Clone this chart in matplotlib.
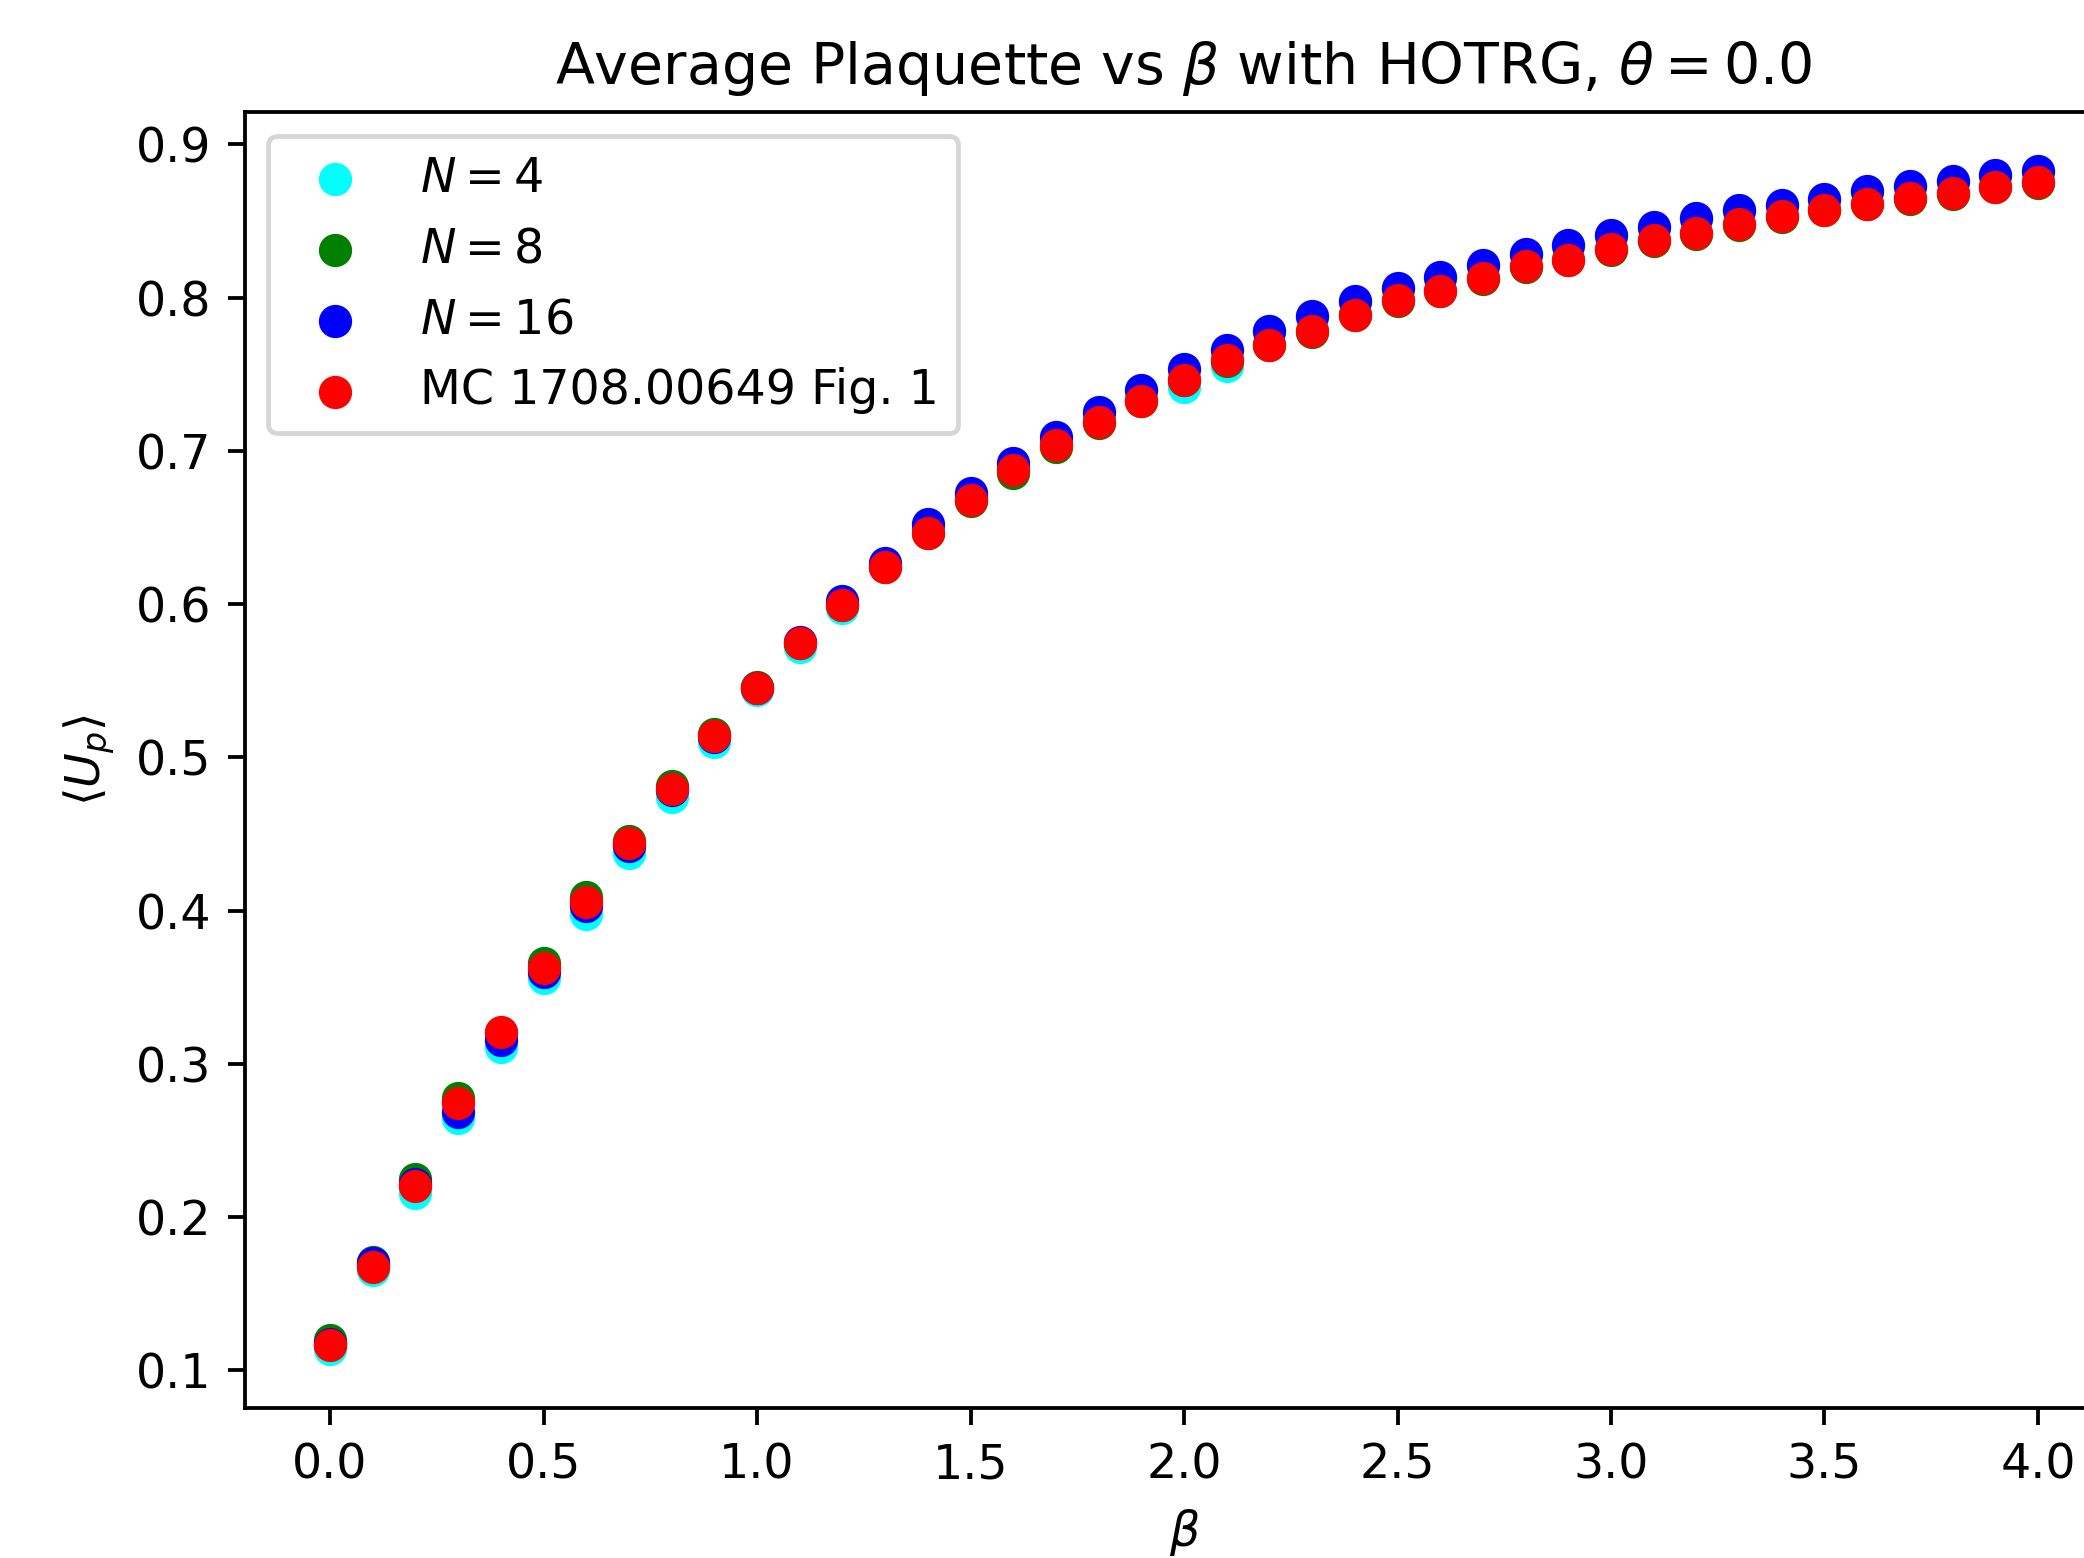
import matplotlib
matplotlib.use('Agg')
import matplotlib.pyplot as plt
import numpy as np

beta = [0.0, 0.1, 0.2, 0.3, 0.4, 0.5, 0.6, 0.7, 0.8, 0.9,
        1.0, 1.1, 1.2, 1.3, 1.4, 1.5, 1.6, 1.7, 1.8, 1.9,
        2.0, 2.1, 2.2, 2.3, 2.4, 2.5, 2.6, 2.7, 2.8, 2.9,
        3.0, 3.1, 3.2, 3.3, 3.4, 3.5, 3.6, 3.7, 3.8, 3.9, 4.0]

# HOTRG, N = 4
up_n4 = [0.1139, 0.1658, 0.2159, 0.2644, 0.3113, 0.3562, 0.3979, 0.4375, 0.4741, 0.5100,
         0.5438, 0.5721, 0.5971, 0.6245, 0.6490, 0.6710, 0.6890, 0.7060, 0.7240, 0.7390,
         0.7414, 0.7554, 0.7780, 0.7876, 0.7974, 0.8057, 0.8130, 0.8207, 0.8278, 0.8339,
         0.8402, 0.8452, 0.8513, 0.8565, 0.8600, 0.8637, 0.8691, 0.8723, 0.8756, 0.8793, 0.8821]

# HOTRG, N = 8
up_n8 = [0.1198, 0.1706, 0.2247, 0.2774, 0.3200, 0.3658, 0.4087, 0.4451, 0.4815, 0.5152,
         0.5460, 0.5747, 0.5995, 0.6240, 0.6462, 0.6672, 0.6857, 0.7024, 0.7182, 0.7324,
         0.7460, 0.7588, 0.7690, 0.7775, 0.7884, 0.7975, 0.8040, 0.8123, 0.8199, 0.8242,
         0.8312, 0.8371, 0.8416, 0.8475, 0.8526, 0.8568, 0.8609, 0.8643, 0.8674, 0.8720, 0.8750]

# HOTRG, N = 16
up_n16 = [0.1170, 0.1700, 0.2214, 0.2685, 0.3154, 0.3597, 0.4027, 0.4422, 0.4787, 0.5134,
          0.5453, 0.5753, 0.6018, 0.6270, 0.6520, 0.6724, 0.6919, 0.7089, 0.7251, 0.7397,
          0.7534, 0.7658, 0.7784, 0.7881, 0.7979, 0.8062, 0.8135, 0.8212, 0.8283, 0.8344,
          0.8407, 0.8457, 0.8518, 0.8570, 0.8605, 0.8642, 0.8696, 0.8728, 0.8761, 0.8798, 0.8826]

# Monte Carlo, 1708.00649 Fig. 1
up_mc = [0.1165, 0.1673, 0.2203, 0.2746, 0.3206, 0.3625, 0.4059, 0.4440, 0.4795, 0.5139,
         0.5453, 0.5743, 0.5997, 0.6242, 0.6466, 0.6676, 0.6872, 0.7039, 0.7186, 0.7328,
         0.7464, 0.7593, 0.7693, 0.7779, 0.7888, 0.7986, 0.8044, 0.8127, 0.8203, 0.8246,
         0.8316, 0.8375, 0.8420, 0.8479, 0.8530, 0.8572, 0.8613, 0.8652, 0.8685, 0.8724, 0.8754]

DPI = 342
fig = plt.figure(figsize=(2084 / DPI, 1558 / DPI), dpi=DPI)
ax = fig.add_axes([0.1174, 0.0963, 0.9015, 0.8318])

ax.scatter(beta, up_n4, color='cyan', label=r'$N = 4$')
ax.scatter(beta, up_n8, color='green', label=r'$N = 8$')
ax.scatter(beta, up_n16, color='blue', label=r'$N = 16$')
ax.scatter(beta, up_mc, color='red', label='MC 1708.00649 Fig. 1')

ax.legend(loc='upper left')
ax.set_title(r'Average Plaquette vs $\beta$ with HOTRG, $\theta = 0.0$')
ax.set_xlabel(r'$\beta$')
ax.set_ylabel(r'$\langle U_p \rangle$')

fig.savefig('out.png', dpi=DPI)
